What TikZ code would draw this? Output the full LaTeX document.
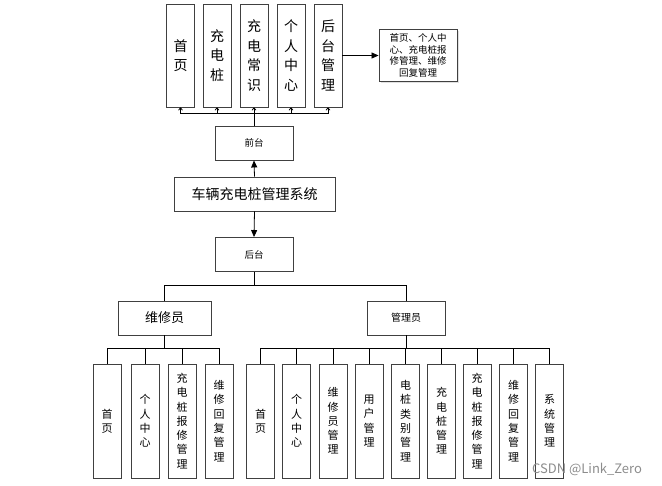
\documentclass[tikz,border=0pt]{standalone}
\usepackage{fontspec}
\setmainfont{Noto Sans CJK SC}
\usetikzlibrary{arrows.meta,shadows}
\begin{document}
\begin{tikzpicture}[x=1pt,y=-1pt,
  box/.style={draw=black!75,line width=0.9pt,fill=white,inner sep=0pt,align=center},
  tall/.style={box,minimum width=28pt,minimum height=103pt,font=\fontsize{14}{19.5}\selectfont},
  kid/.style={box,minimum width=28pt,minimum height=114pt,font=\fontsize{11}{14.3}\selectfont},
  wide/.style={box,minimum width=78pt,minimum height=34pt,font=\fontsize{9.5}{11}\selectfont},
  ln/.style={draw=black,line width=0.8pt},
  tri/.style={ln,-{Triangle[length=7pt,width=6pt]}},
  opn/.style={ln,-{To[length=3pt,width=4.5pt]}}
]
\useasboundingbox (0,0) rectangle (662,486);
% top row
\node[tall] (t1) at (180.5,55.5) {首\\页};
\node[tall] (t2) at (217,55.5) {充\\电\\桩};
\node[tall] (t3) at (254,55.5) {充\\电\\常\\识};
\node[tall] (t4) at (291,55.5) {个\\人\\中\\心};
\node[tall] (t5) at (328,55.5) {后\\台\\管\\理};
\node[box,minimum width=78pt,minimum height=52pt,font=\fontsize{9.5}{11.5}\selectfont,
  drop shadow={shadow xshift=1.5pt,shadow yshift=-1.5pt,fill=black!20,opacity=0.6}] (desc) at (418,55.5)
  {首页、个人中\\心、充电桩报\\修管理、维修\\回复管理};
\draw[tri] (t5.east) -- (desc.west);
% front
\node[wide] (qt) at (254,143) {前台};
\coordinate (tb) at (254,113);
\draw[ln] (qt.north) -- (tb);
\foreach \n in {t1,t2,t3,t4,t5} \draw[opn] (tb) -| (\n.south);
% system
\node[box,minimum width=161pt,minimum height=34pt,font=\fontsize{14}{16}\selectfont] (sys) at (254.5,194) {车辆充电桩管理系统};
\draw[tri] (sys.north) -- (qt.south);
\node[wide] (ht) at (254,254.5) {后台};
\draw[tri] (sys.south) -- (ht.north);
% roles
\node[box,minimum width=93pt,minimum height=34pt,font=\fontsize{13}{15}\selectfont] (wx) at (164.5,318) {维修员};
\node[wide,font=\fontsize{10}{12}\selectfont] (gl) at (406,318) {管理员};
\coordinate (hb) at (254,285);
\draw[ln] (ht.south) -- (hb);
\draw[ln] (hb) -| (wx.north);
\draw[ln] (hb) -| (gl.north);
% repair children
\node[kid] (w1) at (107,421) {首\\页};
\node[kid] (w2) at (145,421) {个\\人\\中\\心};
\node[kid] (w3) at (182,421) {充\\电\\桩\\报\\修\\管\\理};
\node[kid] (w4) at (219,421) {维\\修\\回\\复\\管\\理};
\coordinate (wb) at (164.5,348);
\draw[ln] (wx.south) -- (wb);
\foreach \n in {w1,w2,w3,w4} \draw[ln] (wb) -| (\n.north);
% admin children
\node[kid] (g1) at (260.5,421) {首\\页};
\node[kid] (g2) at (296.5,421) {个\\人\\中\\心};
\node[kid] (g3) at (333,421) {维\\修\\员\\管\\理};
\node[kid] (g4) at (369,421) {用\\户\\管\\理};
\node[kid] (g5) at (405.5,421) {电\\桩\\类\\别\\管\\理};
\node[kid] (g6) at (441.5,421) {充\\电\\桩\\管\\理};
\node[kid] (g7) at (477,421) {充\\电\\桩\\报\\修\\管\\理};
\node[kid] (g8) at (513.5,421) {维\\修\\回\\复\\管\\理};
\node[kid] (g9) at (549.5,421) {系\\统\\管\\理};
\coordinate (gb) at (406,348);
\draw[ln] (gl.south) -- (gb);
\foreach \n in {g1,g2,g3,g4,g5,g6,g7,g8,g9} \draw[ln] (gb) -| (\n.north);
% watermark
\node[text=black!45,font=\fontsize{13}{15}\selectfont,inner sep=0pt] (wm) at (587,469) {CSDN @Link\_Zero};
\end{tikzpicture}
\end{document}
